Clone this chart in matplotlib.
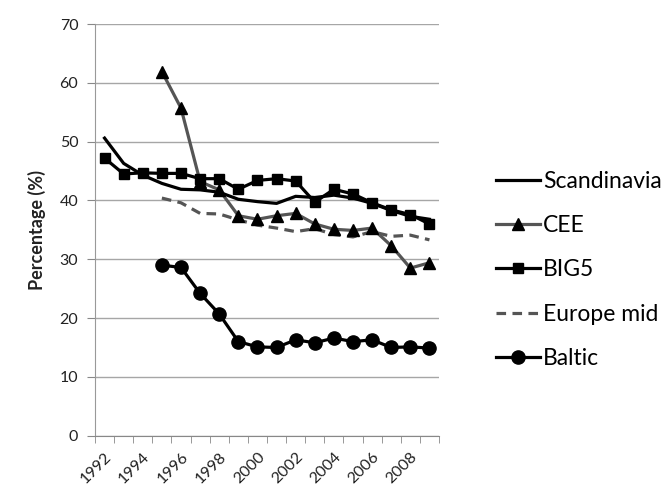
import matplotlib
matplotlib.use("Agg")
import matplotlib.pyplot as plt
import numpy as np

plt.rcParams['font.family'] = ['Lato', 'DejaVu Sans']

years = list(range(1992, 2010))
tick_years = [1992, 1994, 1996, 1998, 2000, 2002, 2004, 2006, 2008]

scandinavia = [50.6, 46.3, 44.3, 42.9, 41.9, 41.8, 41.4, 40.2, 39.8, 39.5, 40.7, 40.5, 40.9, 40.4, 39.5, 38.3, 37.3, 36.8]
cee = [None, None, None, 61.9, 55.7, 43.2, 41.8, 37.4, 36.8, 37.4, 37.8, 36.0, 35.1, 34.9, 35.3, 32.3, 28.5, 29.4]
big5 = [47.2, 44.5, 44.7, 44.6, 44.6, 43.7, 43.7, 41.9, 43.4, 43.7, 43.3, 39.7, 41.9, 41.1, 39.6, 38.4, 37.6, 36.0]
europe_mid = [None, None, None, 40.4, 39.6, 37.8, 37.7, 36.7, 35.8, 35.3, 34.7, 35.2, 34.2, 33.8, 34.7, 33.9, 34.1, 33.3]
baltic = [None, None, None, 29.0, 28.6, 24.2, 20.7, 16.0, 15.1, 15.0, 16.3, 15.8, 16.6, 16.0, 16.3, 15.0, 15.1, 14.9]

def arr(v):
    return np.array([np.nan if x is None else x for x in v], dtype=float)

fig = plt.figure(figsize=(6.65, 4.97), dpi=100)
ax = fig.add_axes([95/665, 1-435.7/497, (439-95)/665, (435.7-24)/497])

x = np.arange(len(years))
ax.plot(x, arr(scandinavia), color='black', lw=2.3, label='Scandinavia', zorder=3)
ax.plot(x, arr(cee), color='#555555', lw=2.3, marker='^', markersize=9,
        markerfacecolor='black', markeredgecolor='black', label='CEE', zorder=4)
ax.plot(x, arr(big5), color='black', lw=2.3, marker='s', markersize=7.5,
        markerfacecolor='black', markeredgecolor='black', label='BIG5', zorder=5)
ax.plot(x, arr(europe_mid), color='#555555', lw=2.3, ls=(0, (3, 2)), label='Europe mid', zorder=2)
ax.plot(x, arr(baltic), color='black', lw=2.3, marker='o', markersize=9.5,
        markerfacecolor='black', markeredgecolor='black', label='Baltic', zorder=4)

ax.set_xlim(-0.5, len(years) - 0.5)
ax.set_ylim(0, 70)
ax.set_yticks(np.arange(0, 71, 10))
ax.yaxis.grid(True, color='#a6a6a6', lw=1)
ax.set_axisbelow(True)

ax.set_xticks([years.index(y) for y in tick_years])
ax.set_xticklabels([str(y) for y in tick_years], rotation=45, ha='right',
                   rotation_mode='anchor', fontsize=11.5, color='#222222')
ax.set_xticks(np.arange(-0.5, len(years), 1.0), minor=True)
ax.tick_params(axis='x', which='major', length=0, pad=10)
ax.tick_params(axis='x', which='minor', length=5, color='#888888', direction='out')
ax.tick_params(axis='y', length=6, color='#888888', labelsize=11.5, labelcolor='#222222', pad=6)

for s in ['top', 'right']:
    ax.spines[s].set_visible(False)
ax.spines['bottom'].set_color('#888888')
ax.spines['left'].set_color('#999999')
ax.spines['left'].set_linestyle((0, (1, 1)))

ax.set_ylabel('Percentage (%)', fontsize=13, fontweight='bold', color='#222222', labelpad=10)

leg = fig.legend(loc='upper left', bbox_to_anchor=(475/665, 1-150/497), frameon=False,
                 fontsize=16.5, handlelength=1.95, handletextpad=0.12, labelspacing=1.02)

fig.savefig('out.png', dpi=100)
